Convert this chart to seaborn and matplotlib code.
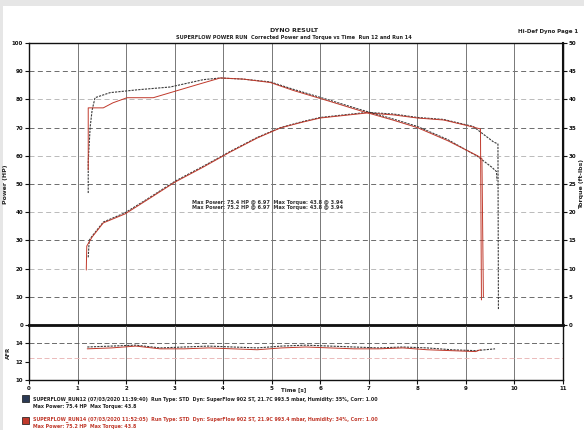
import numpy as np
import pandas as pd
import matplotlib
matplotlib.use("Agg")
import matplotlib.pyplot as plt
import seaborn as sns
from matplotlib.patches import Rectangle

sns.set_theme(style="white")
plt.rcParams['font.family'] = ['DejaVu Sans']

# ---------------- data ----------------
x_ticks = [0, 1, 2, 3, 4, 5, 6, 7, 8, 9, 10, 11]
power_ticks = [0, 10, 20, 30, 40, 50, 60, 70, 80, 90, 100]
torque_ticks = [0, 5, 10, 15, 20, 25, 30, 35, 40, 45, 50]
afr_ticks = [10, 12, 14]

# run 1 (dark)
p1_x = [1.22, 1.24, 1.30, 1.53, 1.98, 2.43, 3.01, 3.59, 4.14, 4.70, 5.18, 5.65, 6.00, 6.97, 7.51, 8.00, 8.54, 9.15, 9.57, 9.66, 9.67]
p1_y = [24.0, 30.0, 31.5, 36.5, 39.8, 44.6, 51.0, 56.3, 61.5, 66.5, 70.0, 72.2, 73.6, 75.4, 74.8, 73.6, 72.9, 70.4, 64.9, 64.2, 5.3]
t1_x = [1.22, 1.22, 1.26, 1.30, 1.36, 1.67, 2.23, 2.91, 3.59, 3.94, 4.41, 4.97, 5.44, 6.14, 6.82, 7.51, 8.00, 8.62, 9.24, 9.53, 9.63, 9.64]
t1_y = [23.4, 29.0, 35.1, 38.1, 40.3, 41.2, 41.7, 42.2, 43.5, 43.8, 43.6, 43.1, 41.8, 40.0, 38.2, 36.5, 35.2, 32.9, 29.9, 28.0, 27.2, 25.6]
a1_x = [1.2, 1.7, 2.2, 2.7, 3.2, 3.7, 4.2, 4.7, 5.2, 5.7, 6.2, 6.7, 7.2, 7.7, 8.2, 8.7, 9.2, 9.6]
a1_y = [13.6, 13.7, 13.8, 13.5, 13.6, 13.7, 13.6, 13.5, 13.7, 13.8, 13.7, 13.6, 13.5, 13.6, 13.5, 13.3, 13.2, 13.4]

# run 2 (red)
p2_x = [1.18, 1.19, 1.30, 1.53, 1.98, 2.43, 3.01, 3.59, 4.14, 4.70, 5.18, 5.65, 6.00, 6.97, 7.51, 8.00, 8.54, 9.15, 9.30, 9.32]
p2_y = [19.5, 28.0, 31.2, 36.2, 39.4, 44.3, 50.7, 56.0, 61.3, 66.3, 69.9, 72.0, 73.4, 75.2, 74.5, 73.4, 72.7, 70.2, 69.5, 8.9]
t2_x = [1.22, 1.22, 1.53, 1.73, 2.02, 2.56, 3.46, 3.94, 4.41, 4.97, 5.44, 6.14, 6.82, 7.51, 8.00, 8.62, 9.24, 9.33, 9.36]
t2_y = [27.5, 38.5, 38.5, 39.4, 40.3, 40.3, 42.6, 43.8, 43.6, 43.0, 41.6, 39.8, 38.0, 36.3, 35.0, 32.7, 30.0, 29.5, 5.0]
a2_x = [1.2, 1.7, 2.2, 2.7, 3.2, 3.7, 4.2, 4.7, 5.2, 5.7, 6.2, 6.7, 7.2, 7.7, 8.2, 8.7, 9.2, 9.3]
a2_y = [13.4, 13.5, 13.7, 13.4, 13.4, 13.5, 13.4, 13.3, 13.5, 13.6, 13.5, 13.4, 13.4, 13.5, 13.3, 13.2, 13.1, 13.3]

afr_ref = [14.0, 12.4]

dark = "#3a3a3a"
red = "#c0392b"

# ---------------- figure ----------------
W, H = 584, 430
fig = plt.figure(figsize=(W / 100, H / 100), dpi=100, facecolor="white")
fig.patches.append(Rectangle((0, 1 - 6 / H), 1, 6 / H, transform=fig.transFigure,
                             facecolor="#e6e6e6", edgecolor="none", zorder=-10))
fig.patches.append(Rectangle((0, 0), 3 / W, 1, transform=fig.transFigure,
                             facecolor="#e6e6e6", edgecolor="none", zorder=-10))

def fx(px):
    return px / W

def fy(py):
    return 1 - py / H

ax = fig.add_axes([fx(29), fy(325), fx(563) - fx(29), fy(43) - fy(325)])
axb = fig.add_axes([fx(29), fy(380), fx(563) - fx(29), fy(325) - fy(380)], sharex=ax)
ax2 = ax.twinx()

for a in (ax, axb, ax2):
    a.set_facecolor("none")

ax.set_xlim(0, 11)
ax.set_ylim(0, 100)
ax2.set_ylim(0, 50)
axb.set_ylim(10, 16)

# grid
for i, v in enumerate(power_ticks):
    ax.axhline(v, color="#555555" if i % 2 else "#b0b0b0", lw=0.6,
               ls=(0, (6, 4)), zorder=1)
for v in x_ticks:
    ax.axvline(v, color="#777777", lw=0.7, zorder=1)
    axb.axvline(v, color="#777777", lw=0.7, zorder=1)

# data lines
sns.lineplot(x=p1_x, y=p1_y, ax=ax, sort=False, estimator=None, color=dark, lw=0.8,
             linestyle=(0, (2, 1)), zorder=3)
sns.lineplot(x=p2_x, y=p2_y, ax=ax, sort=False, estimator=None, color=red, lw=0.7, zorder=4)
sns.lineplot(x=t1_x, y=t1_y, ax=ax2, sort=False, estimator=None, color=dark, lw=0.8,
             linestyle=(0, (2, 1)), zorder=3)
sns.lineplot(x=t2_x, y=t2_y, ax=ax2, sort=False, estimator=None, color=red, lw=0.7, zorder=4)

axb.axhline(afr_ref[0], color="#555555", lw=0.6, ls=(0, (6, 3)))
axb.axhline(afr_ref[1], color="#e8b0b0", lw=0.6, ls=(0, (6, 3)))
sns.lineplot(x=a1_x, y=a1_y, ax=axb, sort=False, estimator=None, color=dark, lw=0.8,
             linestyle=(0, (2, 1)))
sns.lineplot(x=a2_x, y=a2_y, ax=axb, sort=False, estimator=None, color=red, lw=0.7)

# ticks
ax.set_yticks(power_ticks)
ax.set_yticklabels([str(v) for v in power_ticks])
ax2.set_yticks(torque_ticks)
ax2.set_yticklabels([str(v) for v in torque_ticks])
axb.set_yticks(afr_ticks)
axb.set_yticklabels([str(v) for v in afr_ticks])
axb.set_xticks(x_ticks)
axb.set_xticklabels([str(v) for v in x_ticks])
plt.setp(ax.get_xticklabels(), visible=False)

for a in (ax, ax2, axb):
    a.tick_params(labelsize=4, length=3, width=0.8, pad=1.2, colors="#111111",
                  left=(a is not ax2), right=(a is ax2), bottom=(a is axb))
    for lab in a.get_yticklabels() + a.get_xticklabels():
        lab.set_fontweight("bold")

for a in (ax, axb):
    for s in a.spines.values():
        s.set_color("#111111")
        s.set_linewidth(1.0)
ax.spines["bottom"].set_linewidth(2.0)
ax2.spines["right"].set_linewidth(1.5)
ax2.spines["right"].set_color("#111111")
for s in ("left", "top", "bottom"):
    ax2.spines[s].set_visible(False)

ax.set_ylabel("Power (HP)", fontsize=4.5, fontweight="bold", labelpad=3)
ax2.set_ylabel("Torque (ft-lbs)", fontsize=4.5, fontweight="bold", labelpad=2)
axb.set_ylabel("AFR", fontsize=4, fontweight="bold", labelpad=3)
fig.text(fx(294), fy(390), "Time [s]", ha="center", va="center", fontsize=4,
         fontweight="bold", color="#222222")

# titles
fig.text(fx(294), fy(31), "DYNO RESULT", ha="center", va="center", fontsize=4.5,
         fontweight="bold", color="#222222")
fig.text(fx(294), fy(38), "SUPERFLOW POWER RUN  Corrected Power and Torque vs Time  Run 12 and Run 14",
         ha="center", va="center", fontsize=3.6, fontweight="bold", color="#222222")
fig.text(fx(578), fy(31), "Hi-Def Dyno Page 1", ha="right", va="center", fontsize=4,
         fontweight="bold", color="#222222")

# annotation text
ax.text(3.35, 42.5, "Max Power: 75.4 HP @ 6.97  Max Torque: 43.8 @ 3.94\n"
        "Max Power: 75.2 HP @ 6.97  Max Torque: 43.8 @ 3.94",
        fontsize=3.6, fontweight="bold", color="#333333", va="center", ha="left",
        linespacing=1.1)

# run info entries
fig.patches.append(Rectangle((fx(22), fy(402)), 7 / W, 7 / H, transform=fig.transFigure,
                             facecolor="#2b3a55", edgecolor="#111111", lw=0.5))
fig.patches.append(Rectangle((fx(22), fy(424)), 7 / W, 7 / H, transform=fig.transFigure,
                             facecolor=red, edgecolor="#111111", lw=0.5))
fig.text(fx(33), fy(399), "SUPERFLOW_RUN12 (07/03/2020 11:39:40)  Run Type: STD  Dyn: SuperFlow 902 ST, 21.7C 993.5 mbar, Humidity: 35%, Corr: 1.00",
         fontsize=3.4, fontweight="bold", color="#222222", va="center")
fig.text(fx(33), fy(406.5), "Max Power: 75.4 HP  Max Torque: 43.8",
         fontsize=3.4, fontweight="bold", color="#222222", va="center")
fig.text(fx(33), fy(419), "SUPERFLOW_RUN14 (07/03/2020 11:52:05)  Run Type: STD  Dyn: SuperFlow 902 ST, 21.9C 993.4 mbar, Humidity: 34%, Corr: 1.00",
         fontsize=3.4, fontweight="bold", color=red, va="center")
fig.text(fx(33), fy(426.5), "Max Power: 75.2 HP  Max Torque: 43.8",
         fontsize=3.4, fontweight="bold", color=red, va="center")

fig.savefig("out.png", dpi=100, facecolor=fig.get_facecolor())
